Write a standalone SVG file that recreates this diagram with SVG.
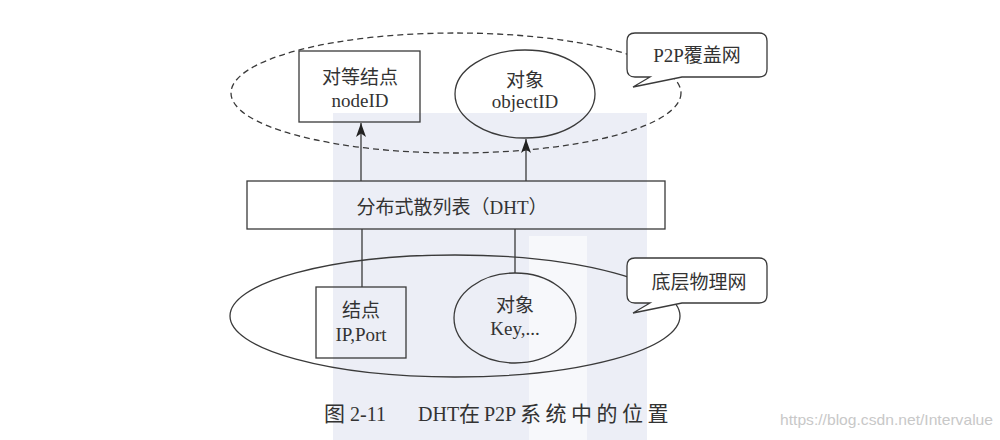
<svg xmlns="http://www.w3.org/2000/svg" width="1000" height="440" viewBox="0 0 1000 440">
  <style>
    .t { font-family: "Liberation Serif", "Noto Sans CJK SC", serif; font-size: 19px; fill: #333; text-anchor: middle; }
    .cap { font-family: "Liberation Serif", "Noto Sans CJK SC", serif; font-size: 20px; fill: #333; }
    .capc { font-size: 21px; }
    .shape { fill: none; stroke: #3a3a3a; stroke-width: 1.3; }
    .dash { fill: none; stroke: #3a3a3a; stroke-width: 1.3; stroke-dasharray: 6 4; }
    .callout { fill: #ffffff; stroke: #3a3a3a; stroke-width: 1.3; }
    .conn { fill: none; stroke: #3a3a3a; stroke-width: 1.3; }
    .wm { font-family: "Liberation Sans", sans-serif; font-size: 15px; fill: #c8c8c8; }
  </style>
  <defs>
    <marker id="arr" markerUnits="userSpaceOnUse" markerWidth="16" markerHeight="12" refX="14" refY="5" orient="auto">
      <path d="M0,0 L14,5 L0,10 L3.5,5 Z" fill="#222"/>
    </marker>
  </defs>
  <rect width="1000" height="440" fill="#ffffff"/>
  <!-- faint background band -->
  <g id="background">
    <rect x="333" y="113" width="314" height="327" fill="#eceef6"/>
    <rect x="529" y="236" width="58" height="204" fill="#f7f8fb"/>
  </g>

  <g id="overlay-network">
    <ellipse class="dash" cx="456" cy="93" rx="225" ry="60"/>
  </g>
  <g id="physical-network">
    <ellipse class="shape" cx="455" cy="316" rx="225" ry="61"/>
  </g>

  <g id="peer-node">
    <rect class="shape" x="299" y="51" width="121" height="71"/>
    <text class="t" x="360" y="84">对等结点</text>
    <text class="t" x="360" y="107">nodeID</text>
  </g>
  <g id="object-id">
    <ellipse class="shape" cx="525" cy="94" rx="70" ry="44"/>
    <text class="t" x="525" y="87">对象</text>
    <text class="t" x="525" y="108">objectID</text>
  </g>

  <g id="dht">
    <rect class="shape" x="247" y="181" width="418" height="48"/>
    <text class="t" x="452" y="214">分布式散列表（DHT）</text>
  </g>

  <g id="host-node">
    <rect class="shape" x="316" y="287" width="90" height="71"/>
    <text class="t" x="361" y="317">结点</text>
    <text class="t" x="361" y="341">IP,Port</text>
  </g>
  <g id="object-key">
    <ellipse class="shape" cx="515" cy="318" rx="61" ry="45"/>
    <text class="t" x="515" y="312">对象</text>
    <text class="t" x="515" y="335">Key,...</text>
  </g>

  <g id="label-p2p">
    <path class="callout" d="M635,33 H759 Q767,33 767,41 V69 Q767,77 759,77 H682 L633,87 L650,77 H635 Q627,77 627,69 V41 Q627,33 635,33 Z"/>
    <text class="t" x="697" y="62">P2P覆盖网</text>
  </g>
  <g id="label-physical">
    <path class="callout" d="M635,258 H759 Q767,258 767,266 V295 Q767,303 759,303 H682 L633,313 L650,303 H635 Q627,303 627,295 V266 Q627,258 635,258 Z"/>
    <text class="t" x="699" y="289">底层物理网</text>
  </g>

  <g id="connectors">
    <line class="conn" x1="361" y1="181" x2="361" y2="123" marker-end="url(#arr)"/>
    <line class="conn" x1="526" y1="181" x2="526" y2="139" marker-end="url(#arr)"/>
    <line class="conn" x1="362" y1="229" x2="362" y2="287"/>
    <line class="conn" x1="515" y1="229" x2="515" y2="273"/>
  </g>

  <g id="caption">
    <text class="cap" y="421"><tspan class="capc" x="324">图</tspan><tspan x="350">2-11</tspan><tspan x="418">DHT</tspan><tspan class="capc" x="459">在</tspan><tspan x="484">P2P</tspan><tspan class="capc" x="520" letter-spacing="4.5">系统中的位置</tspan></text>
  </g>
  <text class="wm" x="780" y="425" textLength="213" lengthAdjust="spacingAndGlyphs">https://blog.csdn.net/Intervalue</text>
</svg>
